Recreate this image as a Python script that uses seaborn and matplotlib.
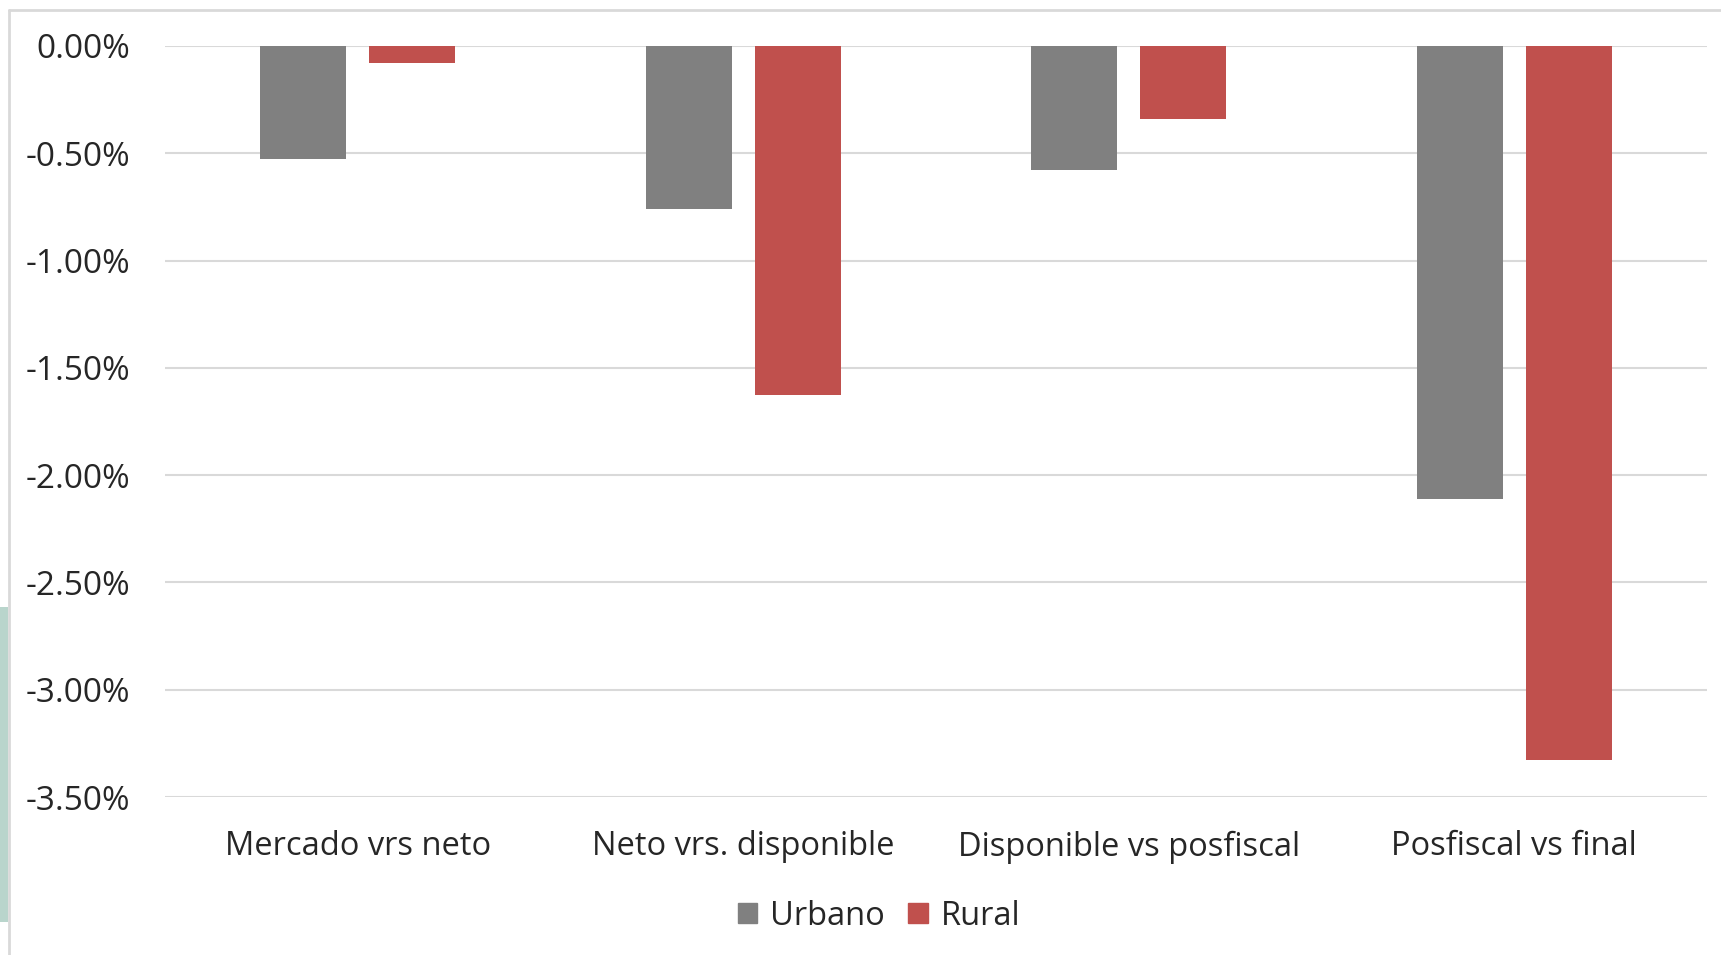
import numpy as np
import pandas as pd
import matplotlib
matplotlib.use("Agg")
from matplotlib import pyplot as plt
from matplotlib.patches import Rectangle
from matplotlib.lines import Line2D
from matplotlib.ticker import FuncFormatter
import seaborn as sns

# data (percent)
categories = ["Mercado vrs neto", "Neto vrs. disponible", "Disponible vs posfiscal", "Posfiscal vs final"]
urbano = [-0.528, -0.758, -0.579, -2.110]
rural = [-0.078, -1.628, -0.338, -3.327]
series = ["Urbano", "Rural"]
colors = ["#808080", "#c0504d"]
y_ticks = [0.0, -0.5, -1.0, -1.5, -2.0, -2.5, -3.0, -3.5]

df = pd.DataFrame({
    "cat": categories * 2,
    "serie": ["Urbano"] * 4 + ["Rural"] * 4,
    "val": urbano + rural,
})

sns.set_style("white")
plt.rcParams["font.family"] = ["Open Sans", "DejaVu Sans"]

W, H = 1721, 955
fig = plt.figure(figsize=(W / 100, H / 100), dpi=100)
ax = fig.add_axes([165 / W, 1 - 797 / H, (1707 - 165) / W, (797 - 46) / H])

sns.barplot(data=df, x="cat", y="val", hue="serie", palette=colors,
            width=0.566, gap=0.21, ax=ax, legend=False, saturation=1,
            edgecolor="none")

ax.set_xlim(-0.5, 3.5)
ax.set_ylim(-3.5, 0)
ax.set_yticks(y_ticks)
ax.yaxis.set_major_formatter(FuncFormatter(lambda v, p: f"{v:.2f}%"))
ax.grid(axis="y", color="#d9d9d9", linewidth=1.5)
ax.set_axisbelow(True)
for s in ax.spines.values():
    s.set_visible(False)
ax.tick_params(axis="y", length=0, pad=25, labelsize=24)
ax.tick_params(axis="x", length=0, pad=24, labelsize=23.5)
ax.set_xlabel("")
ax.set_ylabel("")

# outer frame and side artifact
fig.add_artist(Line2D([9 / W, 9 / W], [0, 1 - 10 / H], transform=fig.transFigure,
                      color="#d9d9d9", linewidth=2))
fig.add_artist(Line2D([9 / W, 1], [1 - 10 / H, 1 - 10 / H], transform=fig.transFigure,
                      color="#d9d9d9", linewidth=2))
fig.add_artist(Rectangle((0, 1 - 922 / H), 8 / W, (922 - 607) / H, transform=fig.transFigure,
                         color="#b9d5cc", linewidth=0))

handles = [Rectangle((0, 0), 1, 1, color=c) for c in colors]
fig.legend(handles, series, loc="center", bbox_to_anchor=(879 / W, 1 - 916 / H), ncol=2,
           frameon=False, fontsize=23.5, handlelength=0.6, handleheight=0.6,
           handletextpad=0.4, columnspacing=0.7)

fig.savefig("out.png", dpi=100)
